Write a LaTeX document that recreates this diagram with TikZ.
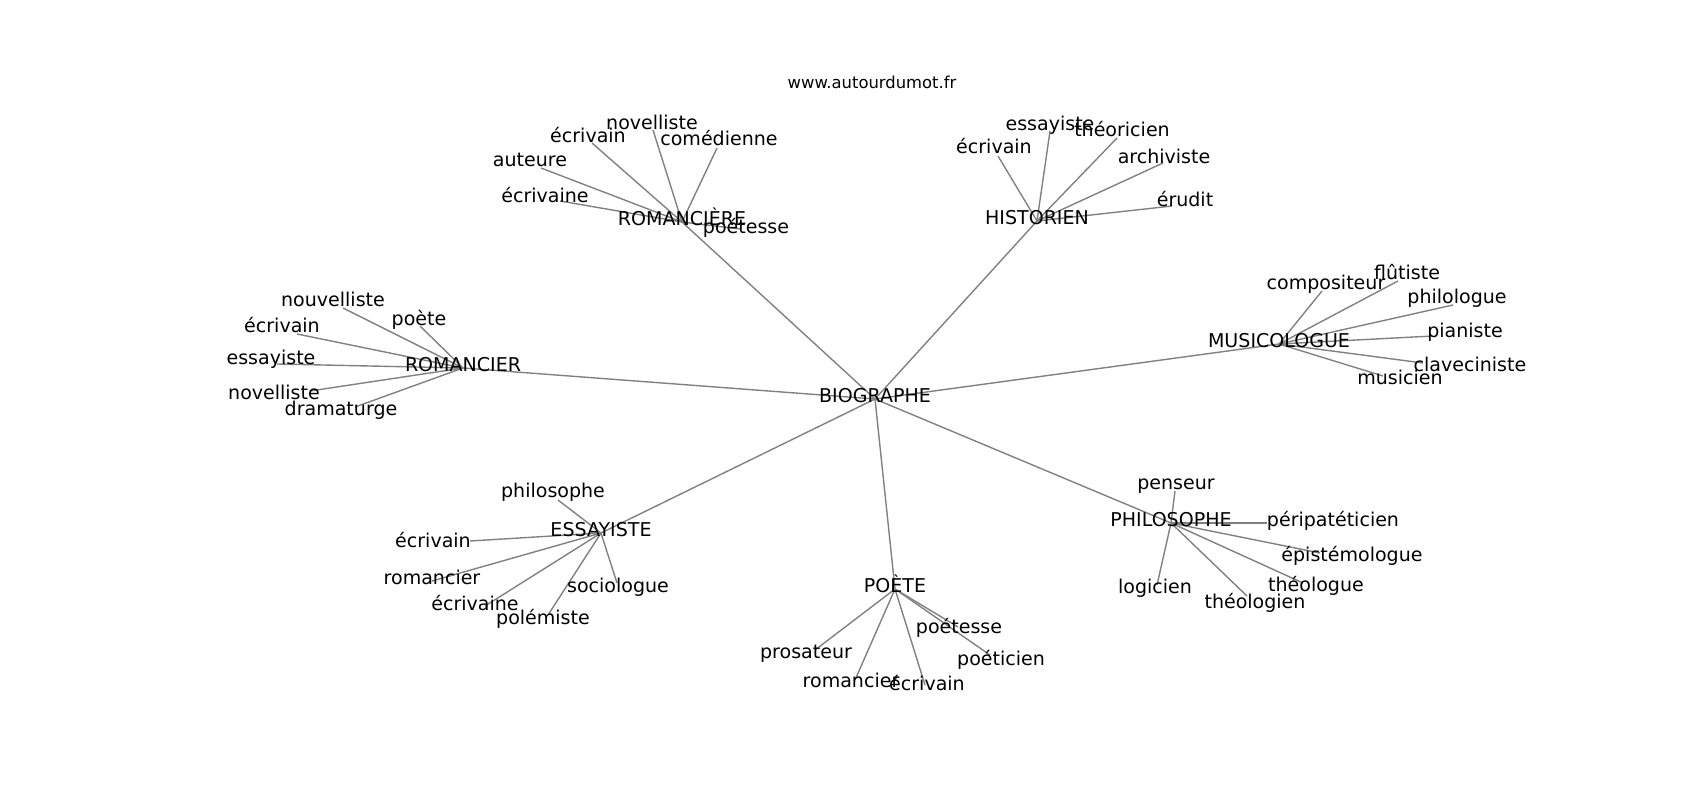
\documentclass[tikz,border=0pt]{standalone}
\usepackage{fontspec}
\setmainfont{DejaVu Sans}
\usetikzlibrary{backgrounds}
\begin{document}
\begin{tikzpicture}[x=0.72pt,y=-0.72pt,
  lbl/.style={inner sep=0pt, text height=0.76em, text depth=0.21em, font=\fontsize{13.7}{16}\selectfont, text=black},
  ttl/.style={inner sep=0pt, text height=0.76em, text depth=0.21em, font=\fontsize{11.8}{14}\selectfont, text=black},
  edge/.style={draw=gray, line width=1pt}]
\useasboundingbox (0,-3) rectangle (1700,797);

\node[ttl] (title) at (872,82) {www.autourdumot.fr};

% hubs
\node[lbl] (bio) at (875,396) {BIOGRAPHE};
\node[lbl] (rmc) at (682,219) {ROMANCIÈRE};
\node[lbl] (his) at (1037,218) {HISTORIEN};
\node[lbl] (mus) at (1279,341) {MUSICOLOGUE};
\node[lbl] (rom) at (463,365) {ROMANCIER};
\node[lbl] (ess) at (601,530) {ESSAYISTE};
\node[lbl] (poe) at (895,586) {POÈTE};
\node[lbl] (phi) at (1171,520) {PHILOSOPHE};

% ROMANCIÈRE leaves
\node[lbl] (rmc1) at (652,123) {novelliste};   \coordinate (rmc1e) at (653,127);
\node[lbl] (rmc2) at (588,136) {écrivain};     \coordinate (rmc2e) at (592,140);
\node[lbl] (rmc3) at (719,139) {comédienne};   \coordinate (rmc3e) at (717,145);
\node[lbl] (rmc4) at (530,160) {auteure};      \coordinate (rmc4e) at (541,165);
\node[lbl] (rmc5) at (545,196) {écrivaine};    \coordinate (rmc5e) at (560,198);
\node[lbl] (rmc6) at (746,227) {poétesse};     \coordinate (rmc6e) at (740,226);

% HISTORIEN leaves
\node[lbl] (his1) at (1050,124) {essayiste};   \coordinate (his1e) at (1050,128);
\node[lbl] (his2) at (1122,130) {théoricien};  \coordinate (his2e) at (1117,135);
\node[lbl] (his3) at (994,147) {écrivain};     \coordinate (his3e) at (998,153);
\node[lbl] (his4) at (1164,157) {archiviste};  \coordinate (his4e) at (1163,160);
\node[lbl] (his5) at (1185,200) {érudit};      \coordinate (his5e) at (1172,203);

% MUSICOLOGUE leaves
\node[lbl] (mus1) at (1326,283) {compositeur}; \coordinate (mus1e) at (1322,288);
\node[lbl] (mus2) at (1407,273) {flûtiste};    \coordinate (mus2e) at (1398,278);
\node[lbl] (mus3) at (1457,297) {philologue};  \coordinate (mus3e) at (1453,302);
\node[lbl] (mus4) at (1465,331) {pianiste};    \coordinate (mus4e) at (1433,333);
\node[lbl] (mus5) at (1470,365) {claveciniste};\coordinate (mus5e) at (1423,360);
\node[lbl] (mus6) at (1400,378) {musicien};    \coordinate (mus6e) at (1383,373);

% ROMANCIER leaves
\node[lbl] (rom1) at (333,300) {nouvelliste};  \coordinate (rom1e) at (343,305);
\node[lbl] (rom2) at (419,319) {poète};        \coordinate (rom2e) at (420,323);
\node[lbl] (rom3) at (282,326) {écrivain};     \coordinate (rom3e) at (297,331);
\node[lbl] (rom4) at (271,358) {essayiste};    \coordinate (rom4e) at (277,361);
\node[lbl] (rom5) at (274,393) {novelliste};   \coordinate (rom5e) at (310,388);
\node[lbl] (rom6) at (341,409) {dramaturge};   \coordinate (rom6e) at (355,404);

% ESSAYISTE leaves
\node[lbl] (ess1) at (553,491) {philosophe};   \coordinate (ess1e) at (558,497);
\node[lbl] (ess2) at (433,541) {écrivain};     \coordinate (ess2e) at (470,538);
\node[lbl] (ess3) at (432,578) {romancier};    \coordinate (ess3e) at (432,578);
\node[lbl] (ess4) at (475,604) {écrivaine};    \coordinate (ess4e) at (485,603);
\node[lbl] (ess5) at (543,618) {polémiste};    \coordinate (ess5e) at (548,612);
\node[lbl] (ess6) at (618,586) {sociologue};   \coordinate (ess6e) at (617,580);

% POÈTE leaves
\node[lbl] (poe1) at (959,627) {poétesse};     \coordinate (poe1e) at (958,624);
\node[lbl] (poe2) at (806,652) {prosateur};    \coordinate (poe2e) at (815,647);
\node[lbl] (poe3) at (1001,659) {poéticien};   \coordinate (poe3e) at (990,652);
\node[lbl] (poe4) at (851,681) {romancier};    \coordinate (poe4e) at (855,677);
\node[lbl] (poe5) at (927,684) {écrivain};     \coordinate (poe5e) at (925,682);

% PHILOSOPHE leaves
\node[lbl] (phi1) at (1176,483) {penseur};        \coordinate (phi1e) at (1175,488);
\node[lbl] (phi2) at (1333,520) {péripatéticien}; \coordinate (phi2e) at (1267,520);
\node[lbl] (phi3) at (1352,555) {épistémologue};  \coordinate (phi3e) at (1320,550);
\node[lbl] (phi4) at (1155,587) {logicien};       \coordinate (phi4e) at (1157,582);
\node[lbl] (phi5) at (1316,585) {théologue};      \coordinate (phi5e) at (1303,580);
\node[lbl] (phi6) at (1255,602) {théologien};     \coordinate (phi6e) at (1247,593);

\begin{pgfonlayer}{background}
\foreach \h in {rmc,his,mus,rom,ess,poe,phi}
  \draw[edge] (bio.center) -- (\h.center);
\foreach \i in {1,...,6} \draw[edge] (rmc.center) -- (rmc\i e);
\foreach \i in {1,...,5} \draw[edge] (his.center) -- (his\i e);
\foreach \i in {1,...,6} \draw[edge] (mus.center) -- (mus\i e);
\foreach \i in {1,...,6} \draw[edge] (rom.center) -- (rom\i e);
\foreach \i in {1,...,6} \draw[edge] (ess.center) -- (ess\i e);
\foreach \i in {1,...,5} \draw[edge] (poe.center) -- (poe\i e);
\foreach \i in {1,...,6} \draw[edge] (phi.center) -- (phi\i e);
\end{pgfonlayer}
\end{tikzpicture}
\end{document}
